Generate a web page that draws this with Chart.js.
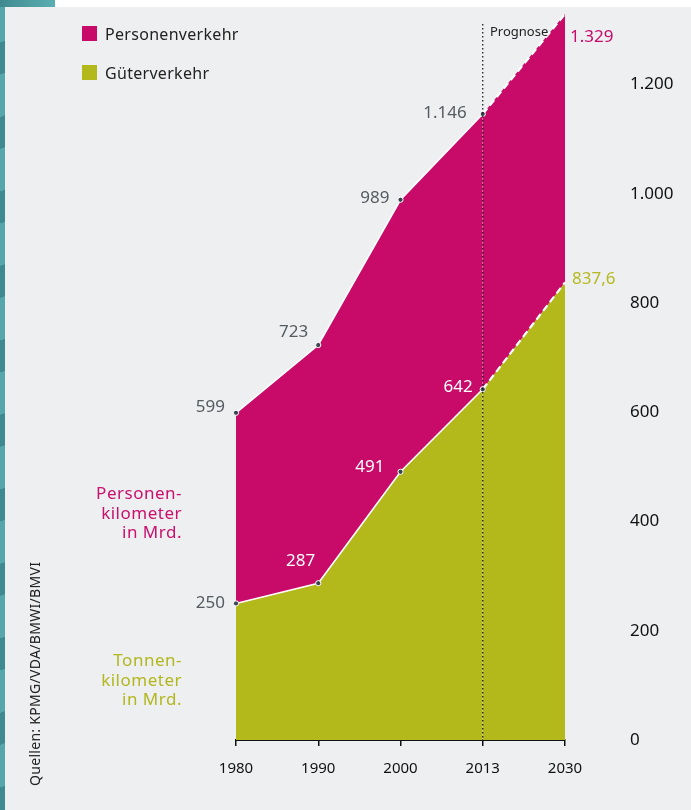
<!DOCTYPE html>
<html lang="de">
<head>
<meta charset="UTF-8">
<title>Personen- und Güterverkehr</title>
<script src="https://cdn.jsdelivr.net/npm/chart.js"></script>
<style>
    body {
        margin: 0;
        width: 691px;
        height: 810px;
        background: #eeeff1;
        font-family: "Noto Sans", sans-serif;
        position: relative;
        overflow: hidden;
    }
    #chart { position: absolute; left: 0; top: 0; }
    .strip-top { position: absolute; left: 55px; top: 0; width: 636px; height: 7px; background: #fff; }
    .strip-side {
        position: absolute; left: 0; top: 0; width: 5px; height: 810px;
        background: repeating-linear-gradient(160deg, #55a7ab 0 40px, #3f8a90 40px 70px);
    }
    .strip-corner {
        position: absolute; left: 0; top: 0; width: 55px; height: 7px;
        background: linear-gradient(90deg, #3f8a90, #5aaeb1);
    }
    .legend { position: absolute; left: 82px; font-size: 16px; color: #222; line-height: 16px; letter-spacing: 0.3px; }
    .legend span { display: inline-block; width: 15px; height: 15px; vertical-align: top; margin-right: 8px; }
    .side {
        position: absolute; left: 40px; width: 142px; text-align: right;
        font-size: 17px; line-height: 19.5px; letter-spacing: 0.5px;
    }
    .prog { position: absolute; left: 490px; top: 22px; font-size: 13px; color: #222; }
    .source {
        position: absolute; left: 0; top: 0; white-space: nowrap;
        font-size: 14px; line-height: 16px; color: #222; letter-spacing: 0.3px;
        transform-origin: 0 0; transform: translate(27px, 786px) rotate(-90deg);
    }
</style>
</head>
<body>
<canvas id="chart" width="691" height="810"></canvas>
<div class="strip-top"></div>
<div class="strip-side"></div>
<div class="strip-corner"></div>

<div class="legend" style="top:26px"><span style="background:#c80b69"></span>Personenverkehr</div>
<div class="legend" style="top:65px"><span style="background:#b3b81b"></span>Güterverkehr</div>

<div class="side" style="top:483px; color:#c8106c">Personen-<br>kilometer<br>in Mrd.</div>
<div class="side" style="top:650px; color:#b2b71d">Tonnen-<br>kilometer<br>in Mrd.</div>

<div class="prog">Prognose</div>
<div class="source">Quellen: KPMG/VDA/BMWI/BMVI</div>

<script>
    const years = ['1980', '1990', '2000', '2013', '2030'];
    const personen = [599, 723, 989, 1146, 1329];   // Mrd. Personenkilometer
    const gueter = [250, 287, 491, 642, 837.6];      // Mrd. Tonnenkilometer
    const yTicks = [0, 200, 400, 600, 800, 1000, 1200];
    const prognoseFrom = 3; // index of 2013, forecast starts here

    const PINK = '#c80b69';
    const OLIVE = '#b3b81b';

    // german number format: 1.146 / 837,6
    function fmt(v) {
        const parts = String(v).split('.');
        const i = parts[0].replace(/\B(?=(\d{3})+(?!\d))/g, '.');
        return parts[1] ? i + ',' + parts[1] : i;
    }

    // label placement next to each point: [dx, dy, align, color]
    const GRAY = '#555b60';
    const upperLabels = [
        [-11, -6, 'right', GRAY],
        [-10, -13, 'right', GRAY],
        [-11, -2, 'right', GRAY],
        [-16, -1, 'right', GRAY],
        [5, 23, 'left', PINK]
    ];
    const lowerLabels = [
        [-11, 0, 'right', GRAY],
        [-3, -22, 'right', '#fff'],
        [-16, -5, 'right', '#fff'],
        [-10, -2, 'right', '#fff'],
        [7, -3, 'left', '#b5ba1f']
    ];

    const valueLabels = {
        id: 'valueLabels',
        afterDatasetsDraw(chart) {
            const ctx = chart.ctx;
            const x = chart.scales.x;
            const y = chart.scales.y;

            // dotted forecast line
            const px = x.getPixelForValue(prognoseFrom);
            ctx.save();
            ctx.strokeStyle = '#111';
            ctx.lineWidth = 1.2;
            ctx.setLineDash([1.5, 2.5]);
            ctx.beginPath();
            ctx.moveTo(px, 24);
            ctx.lineTo(px, y.bottom);
            ctx.stroke();
            ctx.restore();

            ctx.save();
            ctx.font = '17px "Noto Sans", sans-serif';
            ctx.textBaseline = 'middle';
            [[1, personen, upperLabels], [0, gueter, lowerLabels]].forEach(([di, vals, pos]) => {
                const meta = chart.getDatasetMeta(di);
                meta.data.forEach((pt, i) => {
                    const [dx, dy, align, color] = pos[i];
                    ctx.fillStyle = color;
                    ctx.textAlign = align;
                    ctx.fillText(fmt(vals[i]), pt.x + dx, pt.y + dy);
                });
            });
            ctx.restore();
        }
    };

    const forecast = ctx => ctx.p0DataIndex >= prognoseFrom;
    const radii = years.map((_, i) => i === years.length - 1 ? 0 : 2.6);

    function areaDataset(label, data, fill, color) {
        return {
            label: label,
            data: data,
            fill: fill,
            backgroundColor: color,
            borderColor: '#fff',
            borderWidth: 1.6,
            segment: {
                borderDash: ctx => forecast(ctx) ? [7, 4] : undefined,
                borderWidth: ctx => forecast(ctx) ? 2.2 : undefined
            },
            pointRadius: radii,
            pointBackgroundColor: '#3b4650',
            pointBorderColor: '#fff',
            pointBorderWidth: 1,
            tension: 0
        };
    }

    new Chart(document.getElementById('chart'), {
        type: 'line',
        data: {
            labels: years,
            datasets: [
                areaDataset('Güterverkehr', gueter, 'origin', OLIVE),
                areaDataset('Personenverkehr', personen, '-1', PINK)
            ]
        },
        options: {
            responsive: false,
            animation: false,
            layout: { padding: { left: 236, top: 8, right: 0, bottom: 0 } },
            plugins: {
                legend: { display: false },
                tooltip: { enabled: false }
            },
            scales: {
                x: {
                    offset: false,
                    grid: {
                        drawOnChartArea: false,
                        drawTicks: true,
                        tickLength: 6,
                        color: '#111',
                        lineWidth: 1.5
                    },
                    border: { display: true, color: '#111', width: 2 },
                    ticks: {
                        color: '#111',
                        padding: 14,
                        maxRotation: 0,
                        font: { family: '"Noto Sans", sans-serif', size: 15 }
                    },
                    afterFit(scale) { scale.height = 70; }
                },
                y: {
                    position: 'right',
                    min: 0,
                    max: 1340,
                    grid: { display: false, drawTicks: false },
                    border: { display: false },
                    afterBuildTicks(scale) {
                        scale.ticks = yTicks.map(v => ({ value: v }));
                    },
                    ticks: {
                        color: '#111',
                        padding: 65,
                        font: { family: '"Noto Sans", sans-serif', size: 17 },
                        callback: v => fmt(v)
                    },
                    afterFit(scale) {
                        // keep the label gap from eating into the plot height
                        scale.width = 126;
                        scale.paddingTop = 0;
                        scale.paddingBottom = 0;
                    }
                }
            }
        },
        plugins: [valueLabels]
    });
</script>
</body>
</html>
